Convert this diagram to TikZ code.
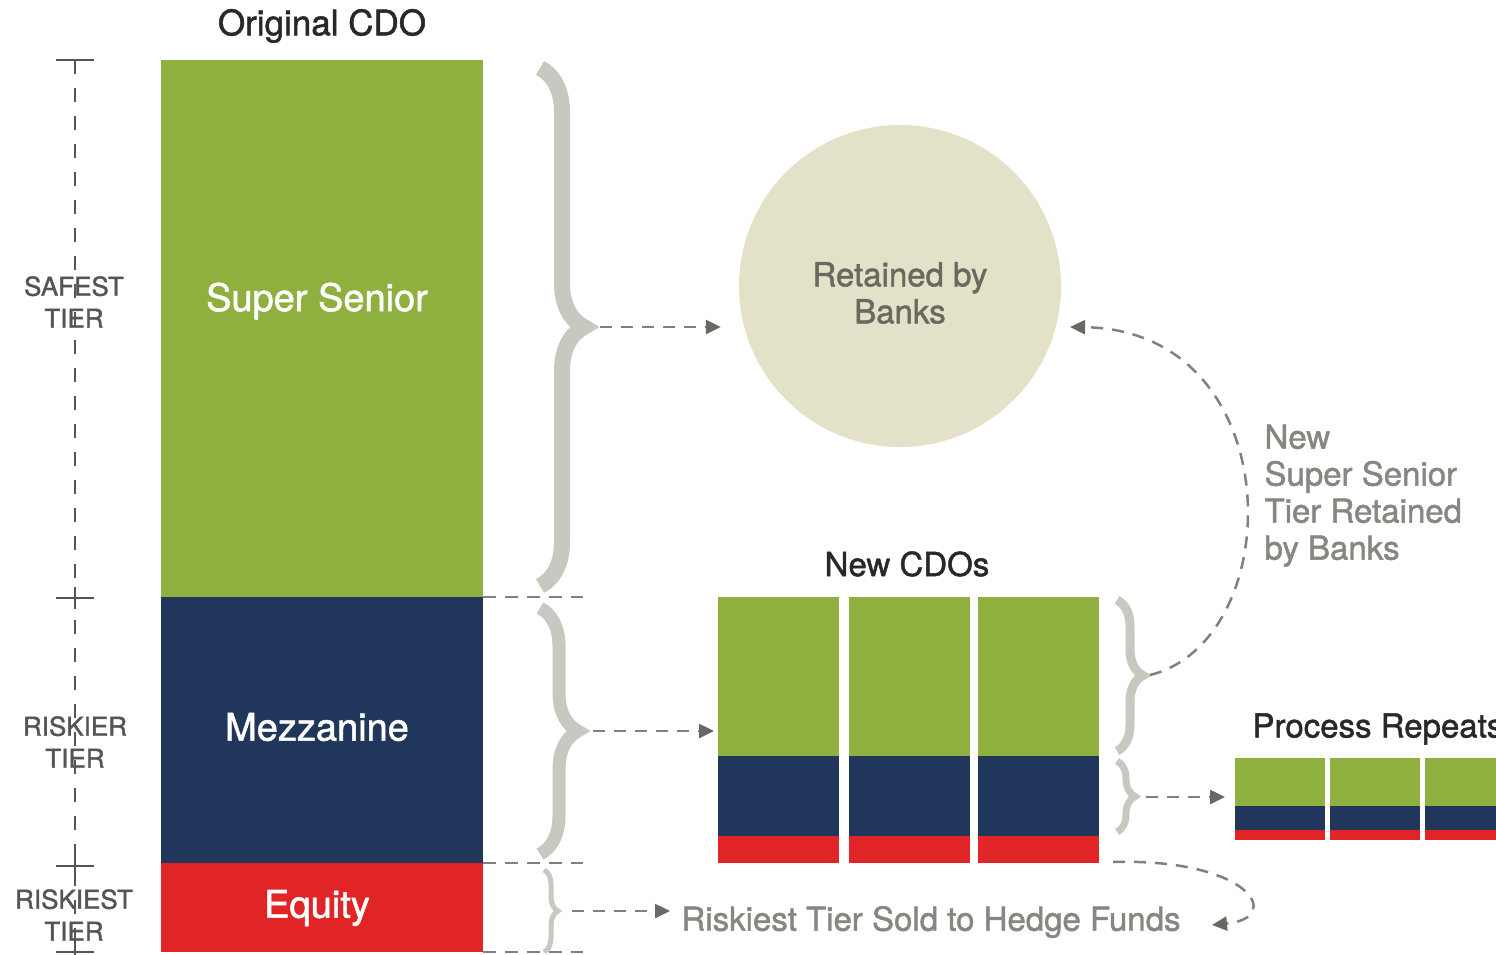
\documentclass[tikz,border=0pt]{standalone}
\usepackage{fontspec}
\setmainfont{TeX Gyre Heros}[FakeBold=1.4]
\usetikzlibrary{decorations.pathreplacing,arrows.meta,calc}
\definecolor{cgreen}{RGB}{143,176,63}
\definecolor{cnavy}{RGB}{32,54,90}
\definecolor{cred}{RGB}{225,37,38}
\definecolor{ccircle}{RGB}{227,226,200}
\definecolor{cbrace}{RGB}{200,200,192}
\definecolor{cdash}{RGB}{128,128,126}
\definecolor{ctip}{RGB}{105,105,100}
\definecolor{cdark}{RGB}{40,40,40}
\definecolor{caxis}{RGB}{85,85,85}
\definecolor{clight}{RGB}{135,135,130}
\definecolor{cbank}{RGB}{105,105,95}
\tikzset{
  blk/.style={rectangle, inner sep=0pt, outer sep=0pt, anchor=north west},
  bracestyle/.style={draw=cbrace, decorate, line width=#1},
  conn/.style={draw=cdash, line width=2.5pt, dash pattern=on 12pt off 9pt,
    -{Triangle[length=15pt,width=14pt,color=ctip]}},
  bnd/.style={draw=cdash, line width=2pt, dash pattern=on 13pt off 9pt},
  axis/.style={draw=caxis, line width=1.8pt, dash pattern=on 14pt off 14pt},
  tick/.style={draw=caxis, line width=1.8pt},
  inlabel/.style={text=white, font=\fontsize{38}{44}\selectfont},
  axlabel/.style={text=caxis, align=center, font=\fontsize{26}{32}\selectfont},
  title/.style={text=cdark, font=\fontsize{35}{40}\selectfont},
  graytext/.style={text=clight, font=\fontsize{33}{37}\selectfont}
}
\begin{document}
\begin{tikzpicture}[x=1pt,y=-1pt]
\useasboundingbox[fill=white] (0,0) rectangle (1496,955);

% left axis
\coordinate (axtop) at (75,60);
\coordinate (axbot) at (75,955);
\draw[axis] (axtop) -- (axbot);
\draw[tick] (56,60) -- (94,60);
\draw[tick] (75,60) -- (75,72);
\foreach \yy in {598,866,952}{
  \draw[tick] (56,\yy) -- (94,\yy);
  \draw[tick] (75,\yy-11) -- (75,\yy+11);
}
\node[axlabel] (safe) at (74,302) {SAFEST\\TIER};
\node[axlabel] (riskier) at (75,742) {RISKIER\\TIER};
\node[axlabel] (riskiest) at (74,915) {RISKIEST\\TIER};

% original CDO
\node[title] (origt) at (322,26) {Original CDO};
\node[blk, fill=cgreen, minimum width=322pt, minimum height=537pt] (ss) at (161,60) {};
\node[blk, fill=cnavy, minimum width=322pt, minimum height=266pt] (mz) at (161,597) {};
\node[blk, fill=cred, minimum width=322pt, minimum height=89pt] (eq) at (161,863) {};
\node[inlabel] (sst) at (317,301) {Super Senior};
\node[inlabel] (mzt) at (317,727) {Mezzanine};
\node[inlabel] (eqt) at (317,908) {Equity};

% boundary dashes
\draw[bnd] (ss.south east) -- ++(100,0);
\draw[bnd] (mz.south east) -- ++(100,0);
\draw[bnd] (eq.south east) -- ++(100,0);

% braces
\draw[bracestyle=16pt, decoration={brace, amplitude=44pt}] (540,68) -- (540,586);
\draw[bracestyle=13pt, decoration={brace, amplitude=38pt}] (540,608) -- (540,854);
\draw[bracestyle=5pt, decoration={brace, amplitude=14pt}] (544,870) -- (544,952);
\coordinate (b1) at (600,327);
\coordinate (b2) at (593,731);
\coordinate (b3) at (572,911);

% circle
\node[circle, fill=ccircle, minimum size=322pt, inner sep=0pt] (bank) at (900,286) {};
\node[align=center, text=cbank, font=\fontsize{33}{37}\selectfont] (bankt) at (900,293) {Retained by\\Banks};

% new CDOs
\node[title, font=\fontsize{33}{38}\selectfont] (newt) at (907,564) {New CDOs};
\foreach \xx/\i in {718/1,849/2,978/3}{
  \node[blk, fill=cgreen, minimum width=121pt, minimum height=159pt] (ncg\i) at (\xx,597) {};
  \node[blk, fill=cnavy, minimum width=121pt, minimum height=80pt] (ncn\i) at (\xx,756) {};
  \node[blk, fill=cred, minimum width=121pt, minimum height=27pt] (ncr\i) at (\xx,836) {};
}
\draw[bracestyle=9pt, decoration={brace, amplitude=26pt}] (1117,600) -- (1117,751);
\draw[bracestyle=7pt, decoration={brace, amplitude=18pt}] (1117,761) -- (1117,832);
\coordinate (b4) at (1150,675);
\coordinate (b5) at (1146,797);

% process repeats
\node[title, anchor=west, font=\fontsize{33}{38}\selectfont] (prt) at (1249,729) {Process Repeats};
\foreach \xx/\i in {1235/1,1330/2,1425/3}{
  \node[blk, fill=cgreen, minimum width=90pt, minimum height=48pt] (pg\i) at (\xx,758) {};
  \node[blk, fill=cnavy, minimum width=90pt, minimum height=24pt] (pn\i) at (\xx,806) {};
  \node[blk, fill=cred, minimum width=90pt, minimum height=10pt] (pr\i) at (\xx,830) {};
}

% texts
\node[graytext, anchor=west] (hedge) at (678,922) {Riskiest Tier Sold to Hedge Funds};
\node[graytext, anchor=north west, align=left, font=\fontsize{33}{37}\selectfont] (newss) at (1261,421) {New\\Super Senior\\Tier Retained\\by Banks};

% connectors
\coordinate (bankin) at (1070,327);
\coordinate (hedgein) at (1212,925);
\coordinate (ncend) at ($(ncr3.south east)+(14,-1)$);
\draw[conn, shorten >=18pt] (b1) -- (b1 -| bank.west);
\draw[conn, shorten >=4pt] (b2) -- (b2 -| ncg1.west);
\draw[conn, shorten >=8pt] (b3) -- (b3 -| hedge.west);
\draw[conn, shorten >=10pt] (b5) -- (b5 -| pg1.west);
\draw[conn] (b4) .. controls (1290,640) and (1290,330) .. (bankin);
\draw[conn] (ncend) .. controls (1250,858) and (1285,918) .. (hedgein);
\end{tikzpicture}
\end{document}
